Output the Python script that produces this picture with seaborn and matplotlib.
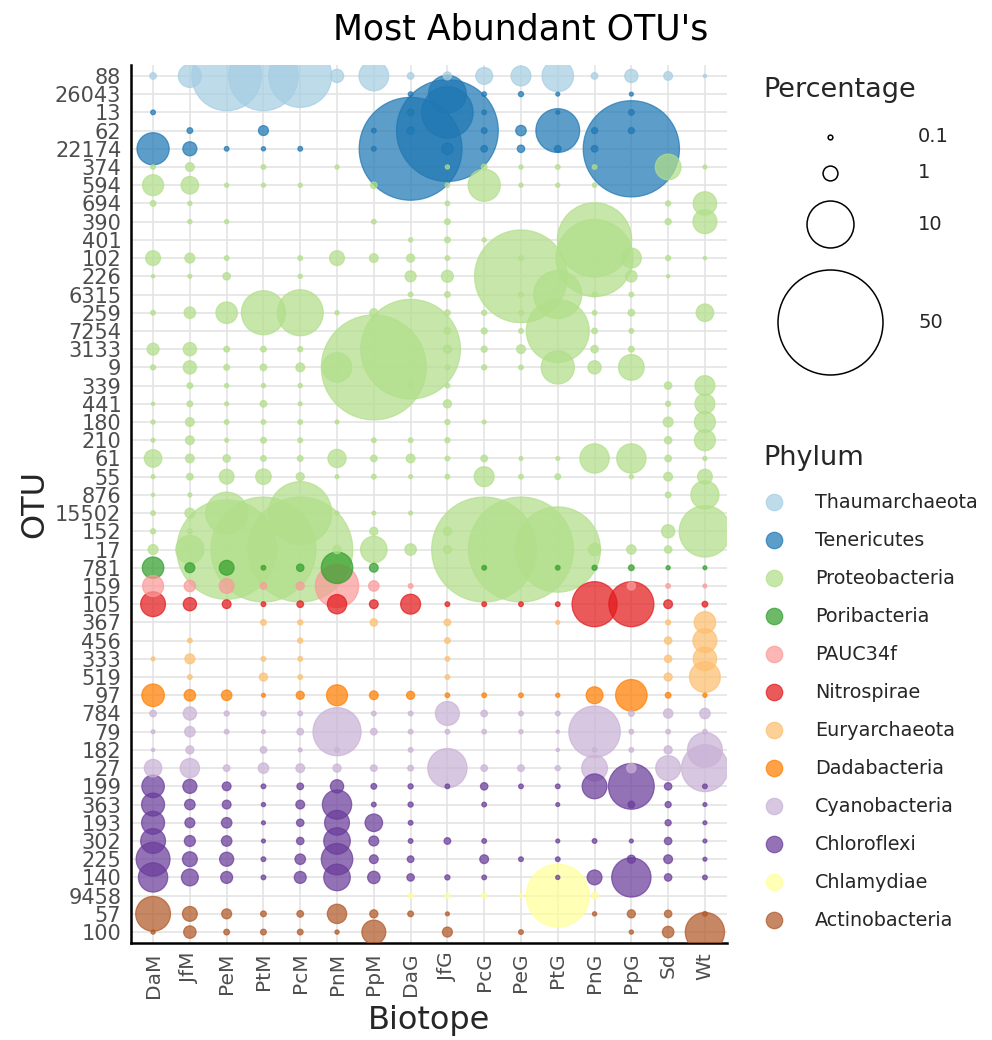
import numpy as np
import pandas as pd
import matplotlib
matplotlib.use("Agg")
import matplotlib.pyplot as plt
import seaborn as sns

# OTU identifiers (top to bottom) and the phylum each belongs to
otus = ["88", "26043", "13", "62", "22174", "374", "594", "694", "390", "401",
        "102", "226", "6315", "259", "7254", "3133", "9", "339", "441", "180",
        "210", "61", "55", "876", "15502", "152", "17", "781", "159", "105",
        "367", "456", "333", "519", "97", "784", "79", "182", "27", "199",
        "363", "193", "302", "225", "140", "9458", "57", "100"]
otu_phylum = (["Thaumarchaeota"] + ["Tenericutes"] * 4 + ["Proteobacteria"] * 22
              + ["Poribacteria", "PAUC34f", "Nitrospirae"] + ["Euryarchaeota"] * 4
              + ["Dadabacteria"] + ["Cyanobacteria"] * 4 + ["Chloroflexi"] * 6
              + ["Chlamydiae"] + ["Actinobacteria"] * 2)

phylum_order = ["Thaumarchaeota", "Tenericutes", "Proteobacteria", "Poribacteria",
                "PAUC34f", "Nitrospirae", "Euryarchaeota", "Dadabacteria",
                "Cyanobacteria", "Chloroflexi", "Chlamydiae", "Actinobacteria"]

biotopes = ["DaM", "JfM", "PeM", "PtM", "PcM", "PnM", "PpM", "DaG",
            "JfG", "PcG", "PeG", "PtG", "PnG", "PpG", "Sd", "Wt"]

# Relative abundance (%) of each OTU per biotope, in the OTU order above
DaM = [0.2, 0, 0.1, 0, 4.7, 0.1, 2.0, 0.15, 0, 0, 1.0, 0.05, 0, 0.1, 0, 0.65,
       0.12, 0, 0.05, 0.08, 0.07, 1.4, 0.07, 0.05, 0.1, 0.12, 0.45, 2.1, 2.0, 2.8,
       0, 0, 0.07, 0, 2.3, 0.2, 0.07, 0.05, 1.4, 2.3, 2.4, 2.4, 2.8, 5.2, 3.9, 0,
       5.5, 0.08]
JfM = [2.4, 0, 0, 0.15, 0.9, 0.35, 1.4, 0.08, 0.08, 0, 0.45, 0.07, 0, 0.6, 0, 0.8,
       0.8, 0.15, 0.15, 0.35, 0.35, 0.35, 0.2, 0.07, 0.45, 0.1, 3.6, 0.45, 0.6, 0.8,
       0, 0.1, 0.45, 0.1, 0.6, 0.8, 0.5, 0.3, 1.7, 0.9, 0.5, 0.45, 0.55, 1.0, 1.3, 0,
       1.0, 0.7]
PeM = [22, 0, 0, 0, 0.1, 0, 0.08, 0, 0.08, 0, 0.1, 0.25, 0, 2.1, 0, 0.15,
       0.15, 0.08, 0.07, 0.1, 0.07, 0.25, 1.0, 0, 8, 0.1, 45, 1.0, 1.0, 0.35,
       0, 0, 0, 0, 0.5, 0.12, 0.1, 0, 0.2, 0.35, 0.35, 0.5, 0.5, 0.9, 0.65, 0,
       0.45, 0.15]
PtM = [22, 0, 0, 0.45, 0.08, 0.1, 0.08, 0, 0, 0, 0, 0, 0, 8.8, 0, 0.15,
       0.2, 0.08, 0.2, 0.1, 0.15, 0.15, 1.1, 0, 0, 0, 60, 0.1, 0.2, 0.1,
       0.15, 0, 0.1, 0.3, 0.07, 0.12, 0.07, 0.2, 0.5, 0.1, 0.08, 0.07, 0.07, 0.1, 0.1, 0,
       0.15, 0.15]
PcM = [18, 0, 0, 0, 0.1, 0, 0.08, 0, 0, 0, 0.1, 0.08, 0, 9.6, 0, 0.12,
       0.35, 0.08, 0.07, 0.1, 0.1, 0.15, 0.3, 0, 18, 0, 50, 0.25, 0.3, 0.2,
       0.12, 0.12, 0.1, 0.1, 0.3, 0.1, 0.2, 0.07, 0.35, 0.2, 0.35, 0.25, 0.25, 0.5, 0.65, 0,
       0.2, 0.15]
PnM = [0.8, 0, 0, 0, 0, 0.08, 0, 0, 0, 0, 1.0, 0, 0, 0.08, 0, 0,
       3.9, 0, 0, 0.07, 0, 1.5, 0.07, 0, 0.07, 0, 0.3, 4.5, 8.5, 1.7,
       0, 0, 0, 0, 2.0, 0, 10.5, 0.1, 0.3, 0.8, 3.9, 2.8, 3.2, 4.5, 3.2, 0,
       1.7, 0.08]
PpM = [4.0, 0, 0, 0.1, 0.1, 0, 0.2, 0, 0.1, 0, 0.35, 0, 0, 0.3, 0, 0,
       70, 0, 0, 0, 0.1, 0.2, 0.1, 0, 0.07, 0.3, 3.2, 0.35, 0.5, 0.35,
       0.25, 0, 0, 0, 0.35, 0.1, 0.2, 0, 0.2, 0.15, 0.1, 1.4, 0.45, 0.35, 0.7, 0,
       0.3, 2.6]
DaG = [0.2, 0.1, 0.2, 0.25, 48, 0, 0, 0, 0, 0.08, 0.3, 0.55, 0.1, 0, 0, 45,
       0, 0.1, 0, 0, 0.1, 0.35, 0.07, 0, 0.07, 0, 0.6, 0, 0.1, 1.8,
       0, 0, 0, 0, 0.3, 0.1, 0.1, 0.1, 0.15, 0.12, 0.12, 0.1, 0.1, 0.2, 0.25, 0.12,
       0.15, 0]
JfG = [0.3, 6.5, 12, 47, 0.6, 0.08, 0.1, 0.1, 0.15, 0.15, 0.1, 0.65, 0.15, 0.15, 0.2, 0.3,
       0.1, 0.1, 0.3, 0.12, 0.12, 0.1, 0.1, 0, 0, 0.3, 0.3, 0, 0, 0.1,
       0.2, 0.15, 0.1, 0.1, 0.1, 2.6, 0.1, 0, 7, 0.1, 0, 0, 0.2, 0, 0.12, 0.12,
       0.07, 0.45]
PcG = [1.3, 0.1, 0.1, 0.15, 0.2, 0.15, 4.7, 0, 0, 0.08, 0, 0, 0, 0.12, 0.17, 0.17,
       0.12, 0, 0, 0.07, 0, 0.2, 1.8, 0, 0, 0, 69, 0.1, 0, 0.1,
       0, 0, 0, 0, 0.1, 0.2, 0.1, 0, 0.2, 0.25, 0.1, 0, 0.1, 0.35, 0.1, 0.12,
       0, 0]
PeG = [1.8, 0.12, 0, 0.5, 0.25, 0.08, 0.08, 0, 0, 0, 0.1, 39, 0.1, 0.1, 0.1, 0.35,
       0.1, 0, 0, 0, 0, 0.07, 0.1, 0, 0, 0, 55, 0, 0, 0.1,
       0, 0, 0, 0, 0.1, 0.1, 0.08, 0, 0.2, 0.1, 0, 0, 0, 0.1, 0, 0.07,
       0, 0.1]
PtG = [4.5, 0.07, 0.07, 8.7, 0.2, 0.1, 0.08, 0, 0, 0, 0, 0, 10.5, 0, 18, 0,
       5, 0, 0, 0, 0, 0.07, 0.15, 0, 0, 0, 33, 0.1, 0, 0.1,
       0.07, 0, 0, 0, 0.08, 0.1, 0.05, 0.05, 0.12, 0.1, 0.07, 0, 0.07, 0.1, 0.08, 18,
       0, 0]
PnG = [0.2, 0, 0, 0.17, 0.2, 0.1, 0.08, 0, 0, 25, 27, 0, 0.1, 0.1, 0.15, 0.25,
       0.8, 0, 0, 0, 0, 3.9, 0, 0, 0, 0, 0.7, 0.12, 0, 9.2,
       0, 0, 0, 0, 1.3, 0, 12, 0.1, 3.0, 2.8, 0, 0, 0.1, 0, 1.0, 0.2,
       0.08, 0]
PpG = [0.8, 0.07, 0.15, 0.17, 42, 0, 0, 0, 0, 0, 1.8, 0.6, 0.1, 0.2, 0.1, 0.15,
       3.0, 0, 0, 0, 0, 3.9, 0.08, 0, 0, 0, 0.4, 0.15, 0.3, 9.2,
       0, 0, 0, 0, 4.5, 0.15, 0.1, 0.1, 0.4, 9.5, 0.2, 0, 0.07, 0.3, 7, 0,
       0.3, 0.08]
Sd = [0.35, 0, 0, 0, 0, 3.0, 0, 0.12, 0.17, 0, 0.12, 0.05, 0, 0, 0, 0,
      0, 0.25, 0.12, 0.45, 0.25, 0.2, 0.35, 0.15, 0, 0.8, 0.25, 0.08, 0.1, 0.35,
      0.12, 0.25, 0.25, 0.3, 0.15, 0.4, 0.1, 0.3, 2.8, 0.25, 0.17, 0.17, 0.25, 0.35, 0.25, 0,
      0.25, 0.6]
Wt = [0.05, 0, 0, 0, 0, 0.07, 0, 2.5, 2.6, 0, 0.05, 0, 0, 1.4, 0, 0,
      0, 1.8, 1.8, 2.0, 2.0, 0.08, 1.0, 3.6, 0, 12, 0, 0.07, 0.07, 0.15,
      2.1, 2.6, 2.5, 4.3, 0.08, 0.5, 0.1, 5.5, 10, 0.1, 0.07, 0.07, 0.07, 0.07, 0.1, 0,
      0.1, 7]

size_breaks = [0.1, 1, 10, 50]

columns = [DaM, JfM, PeM, PtM, PcM, PnM, PpM, DaG,
           JfG, PcG, PeG, PtG, PnG, PpG, Sd, Wt]

# Long-format table of non-zero abundances
records = []
for bi, (bname, vals) in enumerate(zip(biotopes, columns)):
    for oi, v in enumerate(vals):
        if v > 0:
            records.append({"biotope": bname, "bx": bi, "otu": otus[oi], "oy": oi,
                            "phylum": otu_phylum[oi], "pct": v})
df = pd.DataFrame(records).sort_values("pct", ascending=False)

palette = dict(zip(phylum_order, sns.color_palette("Paired", 12)))

SIZE_MAX = 5715.0          # marker area (pt^2) for 50 %
SIZE_NORM = (0, 50)

sns.set_style("white")
plt.rcParams["font.family"] = ["DejaVu Sans"]

W, H = 992, 1040
fig = plt.figure(figsize=(W / 100, H / 100), dpi=100)
ax = fig.add_axes([131 / W, (H - 943) / H, (727 - 131) / W, (943 - 65) / H])

sns.scatterplot(data=df, x="bx", y="oy", hue="phylum", hue_order=phylum_order,
                palette=palette, size="pct", sizes=(0, SIZE_MAX), size_norm=SIZE_NORM,
                alpha=0.72, edgecolor="face", linewidth=0.9, legend=False, ax=ax,
                zorder=3)

ax.set_xlim(-0.6, len(biotopes) - 0.4)
ax.set_ylim(len(otus) - 0.4, -0.6)
ax.set_xticks(range(len(biotopes)))
ax.set_xticklabels(biotopes, rotation=90, fontsize=14.5, color="#4d4d4d")
ax.set_yticks(range(len(otus)))
ax.set_yticklabels(otus, fontsize=15, color="#4d4d4d")
ax.tick_params(axis="both", length=4, width=1, color="black", pad=3)
ax.set_xlabel("")
ax.set_ylabel("")
ax.grid(True, color="#e4e4e4", lw=1.2, zorder=0)
ax.set_axisbelow(True)
for s in ["top", "right"]:
    ax.spines[s].set_visible(False)
for s in ["left", "bottom"]:
    ax.spines[s].set_color("black")
    ax.spines[s].set_linewidth(1.8)

fig.text(521 / W, 1 - 30 / H, "Most Abundant OTU's", ha="center", va="center",
         fontsize=25, color="black")
fig.text(429 / W, 1 - 1020 / H, "Biotope", ha="center", va="center", fontsize=23)
fig.text(35 / W, 1 - 504 / H, "OTU", ha="center", va="center", rotation=90, fontsize=23)

# Legends, laid out in figure pixel coordinates
lax = fig.add_axes([0, 0, 1, 1])
lax.set_xlim(0, W)
lax.set_ylim(H, 0)
lax.axis("off")

lax.text(763, 90, "Percentage", ha="left", va="center", fontsize=19.5)
size_y = [137, 173, 224, 322]
for v, yy in zip(size_breaks, size_y):
    lax.scatter([830], [yy], s=SIZE_MAX * v / SIZE_NORM[1], facecolor="white",
                edgecolor="black", linewidth=1.1)
    lax.text(918, yy, f"{v:g}", ha="left", va="center", fontsize=14)

lax.text(763, 458, "Phylum", ha="left", va="center", fontsize=19.5)
for k, ph in enumerate(phylum_order):
    yy = 502 + 38 * k
    lax.scatter([774], [yy], s=140, color=palette[ph], alpha=0.72,
                edgecolor="face", linewidth=0.9)
    lax.text(815, yy, ph, ha="left", va="center", fontsize=13.8)

fig.savefig("out.png", dpi=100)
